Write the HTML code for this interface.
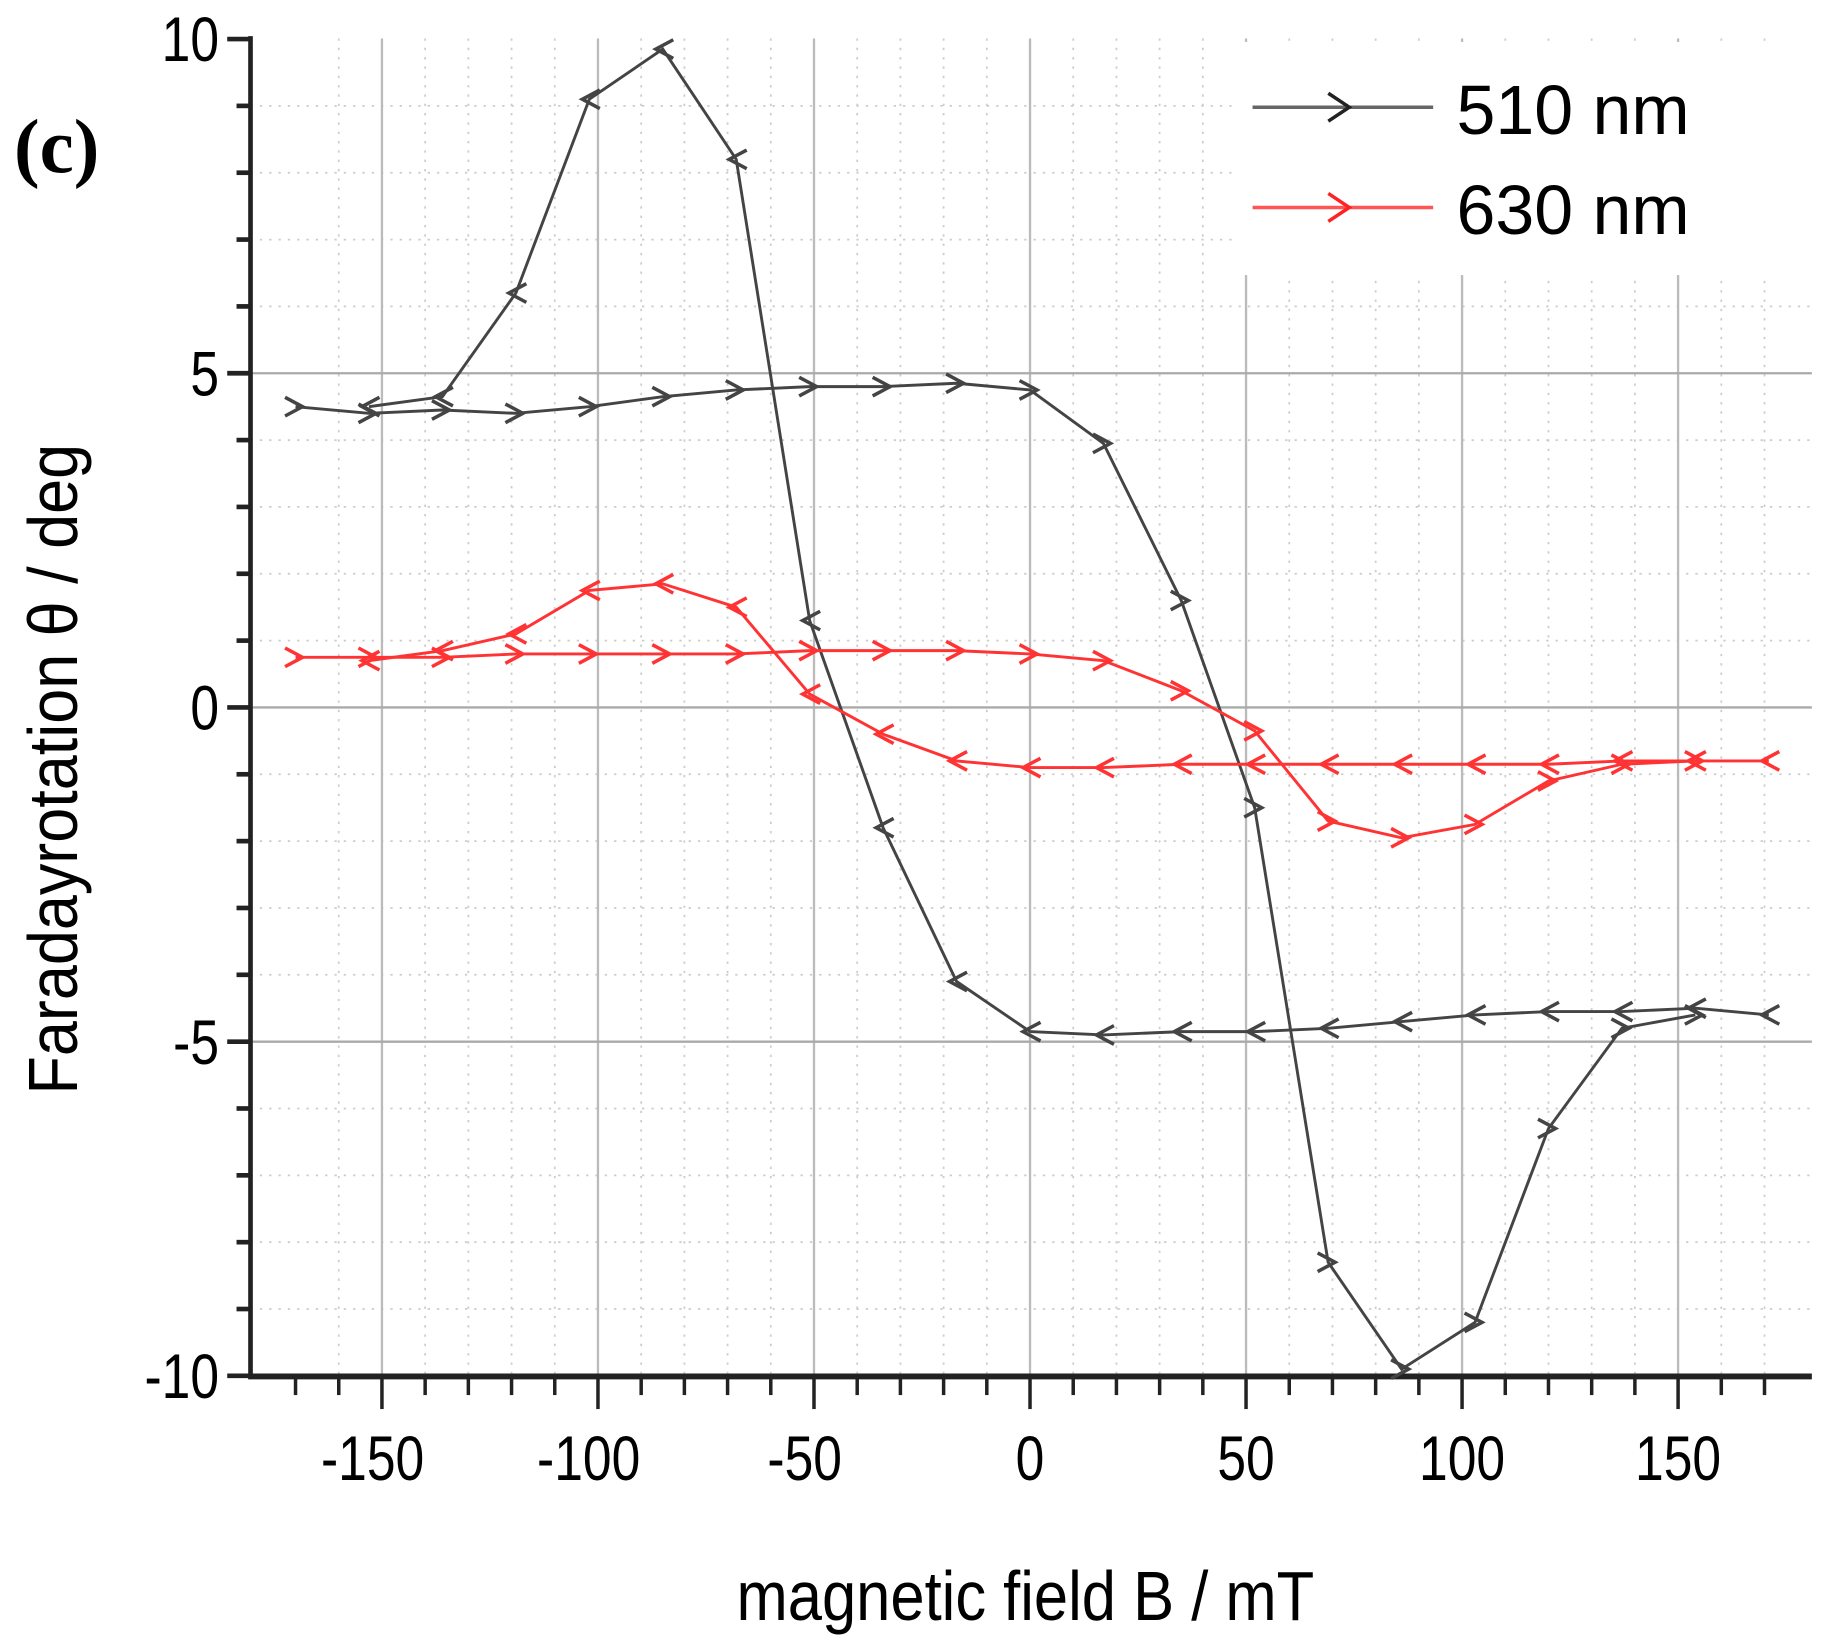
<!DOCTYPE html>
<html><head><meta charset="utf-8"><style>
html,body{margin:0;padding:0;background:#fff;width:1827px;height:1641px;overflow:hidden}
svg{display:block}
text{font-family:"Liberation Sans",sans-serif}
</style></head><body>
<svg id="s" width="1827" height="1641" viewBox="0 0 1568 1408" preserveAspectRatio="none" xmlns="http://www.w3.org/2000/svg"></svg>
<script>
const s=document.getElementById('s');
let h='';
const X=b=>884+3.708*b, Y=v=>607-57.35*v;
for(let b=-160;b<=170;b+=10){ if(b%50==0) continue; h+=`<line x1="${X(b)}" y1="33" x2="${X(b)}" y2="1181" stroke="#ccc" stroke-width="1.5" stroke-dasharray="2,6"/>`;}
for(let v=-9;v<=9;v++){ if(v%5==0) continue; h+=`<line x1="215" y1="${Y(v)}" x2="1555" y2="${Y(v)}" stroke="#ccc" stroke-width="1.5" stroke-dasharray="2,6"/>`;}
for(let b=-150;b<=150;b+=50){h+=`<line x1="${X(b)}" y1="33" x2="${X(b)}" y2="1181" stroke="#bbb" stroke-width="2"/>`;}
for(let v of [5,0,-5]){h+=`<line x1="215" y1="${Y(v)}" x2="1555" y2="${Y(v)}" stroke="#aaa" stroke-width="2"/>`;}
h+=`<rect x="1060" y="36" width="495" height="200" fill="#fff"/>`;
h+=`<line x1="215" y1="31" x2="215" y2="1183" stroke="#222" stroke-width="4"/>`;
h+=`<line x1="213" y1="1181" x2="1555" y2="1181" stroke="#222" stroke-width="5"/>`;
for(let b=-170;b<=170;b+=10){const big=b%50==0;h+=`<line x1="${X(b)}" y1="1181" x2="${X(b)}" y2="${big?1209:1197}" stroke="#222" stroke-width="3"/>`;}
for(let v=-10;v<=10;v++){const big=v%5==0;h+=`<line x1="${big?195:203}" y1="${Y(v)}" x2="215" y2="${Y(v)}" stroke="#222" stroke-width="4"/>`;}
for(let b=-150;b<=150;b+=50){const cx=X(b)-(b<0?8:0);h+=`<text x="${cx}" y="1270" font-size="54" text-anchor="middle" transform="translate(${cx},0) scale(0.82,1) translate(${-cx},0)">${b}</text>`;}
for(let v of [10,5,0,-5,-10]){h+=`<text x="188" y="${Y(v)+19}" font-size="54" text-anchor="end" transform="translate(188,0) scale(0.82,1) translate(-188,0)">${v}</text>`;}
h+=`<text x="880" y="1390" font-size="60" text-anchor="middle" transform="translate(880,0) scale(0.88,1) translate(-880,0)">magnetic field B / mT</text>`;
h+=`<text transform="translate(66,660) rotate(-90) scale(0.9,1)" font-size="60" text-anchor="middle">Faradayrotation θ / deg</text>`;
h+=`<text x="12" y="148" font-size="66" font-weight="bold" style="font-family:'Liberation Serif',serif">(c)</text>`;
function series(fw,bk,col,w){
  const B1=[-170,-153,-136,-119,-102,-85,-68,-51,-34,-17,0,17,35,52,69,86,103,120,137,154];
  const B2=[171,154,137,120,103,86,69,52,35,17,0,-17,-34,-51,-68,-85,-102,-119,-136,-153];
  let p1=B1.map((b,i)=>[X(b),Y(fw[i])]), p2=B2.map((b,i)=>[X(b),Y(bk[i])]);
  const pl=p=>`<polyline points="${p.map(q=>q.join(',')).join(' ')}" fill="none" stroke="${col}" stroke-width="${w}"/>`;
  h+=pl(p1)+pl(p2);
  const mk=(x,y,d)=>`<polyline points="${x-9*d},${y-8} ${x+6*d},${y} ${x-9*d},${y+8}" fill="none" stroke="${col}" stroke-width="3"/>`;
  p1.forEach(q=>h+=mk(q[0],q[1],1)); p2.forEach(q=>h+=mk(q[0],q[1],-1));
}
series([4.5,4.4,4.45,4.4,4.5,4.65,4.75,4.8,4.8,4.85,4.75,3.95,1.6,-1.5,-8.3,-9.9,-9.2,-6.3,-4.8,-4.6],
       [-4.6,-4.5,-4.55,-4.55,-4.6,-4.7,-4.8,-4.85,-4.85,-4.9,-4.85,-4.1,-1.8,1.3,8.2,9.85,9.1,6.2,4.65,4.5],'#444',2.5);
series([0.75,0.75,0.75,0.8,0.8,0.8,0.8,0.85,0.85,0.85,0.8,0.7,0.25,-0.35,-1.7,-1.95,-1.75,-1.1,-0.85,-0.8],
       [-0.8,-0.8,-0.8,-0.85,-0.85,-0.85,-0.85,-0.85,-0.85,-0.9,-0.9,-0.8,-0.4,0.2,1.5,1.85,1.75,1.1,0.85,0.7],'#f33',2.5);
h+=`<line x1="1075" y1="92" x2="1230" y2="92" stroke="#666" stroke-width="3"/><polyline points="1140,80 1158,92 1140,104" fill="none" stroke="#222" stroke-width="3"/>`;
h+=`<line x1="1075" y1="178" x2="1230" y2="178" stroke="#f55" stroke-width="3"/><polyline points="1140,166 1158,178 1140,190" fill="none" stroke="#f22" stroke-width="3"/>`;
h+=`<text x="1250" y="115" font-size="60">510 nm</text><text x="1250" y="201" font-size="60">630 nm</text>`;
s.innerHTML=h;
</script>
</body></html>
